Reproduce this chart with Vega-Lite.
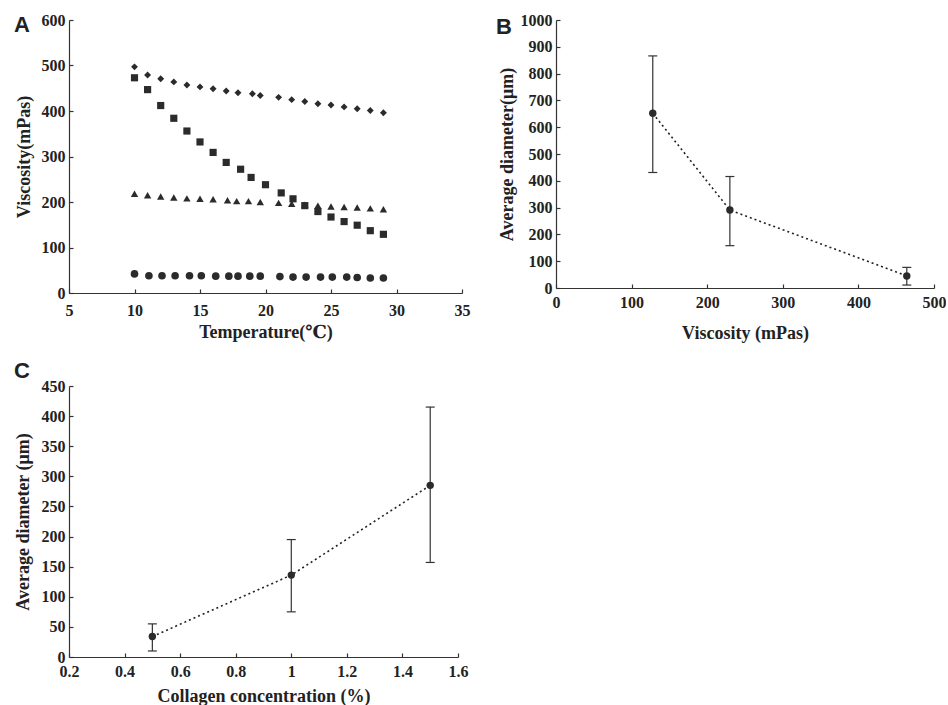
{
  "$schema": "https://vega.github.io/schema/vega-lite/v6.json",
  "padding": {"left": 14, "top": 12, "right": 0, "bottom": 0},
  "background": "white",
  "config": {
    "view": {"stroke": null},
    "axis": {
      "grid": false,
      "labelFont": "Liberation Serif",
      "labelFontWeight": "bold",
      "labelFontSize": 16,
      "labelColor": "#222222",
      "titleFont": "Liberation Serif, DejaVu Serif",
      "titleFontWeight": "bold",
      "titleFontSize": 18,
      "titleColor": "#222222",
      "domainColor": "#333333",
      "domainWidth": 1.2,
      "tickColor": "#333333",
      "tickWidth": 1.2,
      "tickSize": -4,
      "labelFlush": false,
      "labelOverlap": false
    },
    "axisX": {"labelPadding": 10},
    "axisY": {"labelPadding": 8},
    "title": {
      "font": "Liberation Sans",
      "fontSize": 22,
      "fontWeight": "bold",
      "color": "#222222",
      "anchor": "start",
      "frame": "group",
      "offset": 0
    }
  },
  "datasets": {
    "viscosity": [
      {"series": "d", "temperature": 10, "viscosity": 497},
      {"series": "d", "temperature": 11, "viscosity": 479},
      {"series": "d", "temperature": 12, "viscosity": 471},
      {"series": "d", "temperature": 13, "viscosity": 464},
      {"series": "d", "temperature": 14, "viscosity": 457},
      {"series": "d", "temperature": 15, "viscosity": 453},
      {"series": "d", "temperature": 16, "viscosity": 449},
      {"series": "d", "temperature": 17, "viscosity": 444},
      {"series": "d", "temperature": 17.9, "viscosity": 440},
      {"series": "d", "temperature": 19, "viscosity": 438},
      {"series": "d", "temperature": 19.6, "viscosity": 434},
      {"series": "d", "temperature": 21, "viscosity": 430},
      {"series": "d", "temperature": 22, "viscosity": 425},
      {"series": "d", "temperature": 23, "viscosity": 421},
      {"series": "d", "temperature": 24, "viscosity": 416},
      {"series": "d", "temperature": 25, "viscosity": 413},
      {"series": "d", "temperature": 26, "viscosity": 409},
      {"series": "d", "temperature": 27, "viscosity": 405},
      {"series": "d", "temperature": 28, "viscosity": 401},
      {"series": "d", "temperature": 29, "viscosity": 396},
      {"series": "s", "temperature": 10, "viscosity": 473},
      {"series": "s", "temperature": 11, "viscosity": 447},
      {"series": "s", "temperature": 12, "viscosity": 412},
      {"series": "s", "temperature": 13, "viscosity": 384},
      {"series": "s", "temperature": 14, "viscosity": 356},
      {"series": "s", "temperature": 15, "viscosity": 332},
      {"series": "s", "temperature": 16, "viscosity": 309},
      {"series": "s", "temperature": 17, "viscosity": 287},
      {"series": "s", "temperature": 18.1, "viscosity": 272},
      {"series": "s", "temperature": 18.9, "viscosity": 254},
      {"series": "s", "temperature": 20, "viscosity": 238},
      {"series": "s", "temperature": 21.2, "viscosity": 220},
      {"series": "s", "temperature": 22.1, "viscosity": 207},
      {"series": "s", "temperature": 23, "viscosity": 192},
      {"series": "s", "temperature": 24, "viscosity": 179},
      {"series": "s", "temperature": 25, "viscosity": 167},
      {"series": "s", "temperature": 26, "viscosity": 157},
      {"series": "s", "temperature": 27, "viscosity": 149},
      {"series": "s", "temperature": 28, "viscosity": 137},
      {"series": "s", "temperature": 29, "viscosity": 129},
      {"series": "t", "temperature": 10, "viscosity": 218},
      {"series": "t", "temperature": 11, "viscosity": 215},
      {"series": "t", "temperature": 12, "viscosity": 212},
      {"series": "t", "temperature": 13, "viscosity": 210},
      {"series": "t", "temperature": 14, "viscosity": 208},
      {"series": "t", "temperature": 15, "viscosity": 207},
      {"series": "t", "temperature": 16, "viscosity": 206},
      {"series": "t", "temperature": 17.1, "viscosity": 204},
      {"series": "t", "temperature": 17.8, "viscosity": 202},
      {"series": "t", "temperature": 18.7, "viscosity": 202},
      {"series": "t", "temperature": 19.6, "viscosity": 200},
      {"series": "t", "temperature": 21, "viscosity": 198},
      {"series": "t", "temperature": 22, "viscosity": 196},
      {"series": "t", "temperature": 23, "viscosity": 194},
      {"series": "t", "temperature": 24, "viscosity": 192},
      {"series": "t", "temperature": 25, "viscosity": 190},
      {"series": "t", "temperature": 26, "viscosity": 189},
      {"series": "t", "temperature": 27, "viscosity": 188},
      {"series": "t", "temperature": 28, "viscosity": 186},
      {"series": "t", "temperature": 29, "viscosity": 184},
      {"series": "c", "temperature": 10, "viscosity": 42},
      {"series": "c", "temperature": 11.1, "viscosity": 38},
      {"series": "c", "temperature": 12.1, "viscosity": 38},
      {"series": "c", "temperature": 13.1, "viscosity": 38},
      {"series": "c", "temperature": 14.2, "viscosity": 38},
      {"series": "c", "temperature": 15.1, "viscosity": 38},
      {"series": "c", "temperature": 16.2, "viscosity": 37},
      {"series": "c", "temperature": 17.2, "viscosity": 37},
      {"series": "c", "temperature": 17.9, "viscosity": 37},
      {"series": "c", "temperature": 18.8, "viscosity": 37},
      {"series": "c", "temperature": 19.6, "viscosity": 37},
      {"series": "c", "temperature": 21.1, "viscosity": 36},
      {"series": "c", "temperature": 22.1, "viscosity": 35},
      {"series": "c", "temperature": 23.1, "viscosity": 35},
      {"series": "c", "temperature": 24.2, "viscosity": 35},
      {"series": "c", "temperature": 25.1, "viscosity": 35},
      {"series": "c", "temperature": 26.2, "viscosity": 35},
      {"series": "c", "temperature": 27, "viscosity": 34},
      {"series": "c", "temperature": 28, "viscosity": 33},
      {"series": "c", "temperature": 29, "viscosity": 33}
    ],
    "diameterByViscosity": [
      {"viscosity": 128, "diameter": 652, "low": 431, "high": 866},
      {"viscosity": 230, "diameter": 291, "low": 158, "high": 416},
      {"viscosity": 464, "diameter": 45, "low": 11, "high": 77}
    ],
    "diameterByCollagen": [
      {"collagen": 0.5, "diameter": 34, "low": 10, "high": 55},
      {"collagen": 1.0, "diameter": 136, "low": 75, "high": 195},
      {"collagen": 1.5, "diameter": 285, "low": 157, "high": 415}
    ]
  },
  "bounds": "flush",
  "columns": 2,
  "spacing": {"row": 93, "column": 94},
  "concat": [
    {
      "title": {"text": "A", "dx": -55, "dy": 29},
      "width": 393,
      "height": 273,
      "data": {"name": "viscosity"},
      "mark": {"type": "point", "filled": true, "opacity": 1, "color": "#2b2b2b"},
      "encoding": {
        "x": {"field": "temperature", "type": "quantitative", "scale": {"domain": [5, 35], "nice": false, "zero": false},
          "axis": {"title": "Temperature(℃)", "values": [5, 10, 15, 20, 25, 30, 35], "labelPadding": 13, "titlePadding": 5}},
        "y": {"field": "viscosity", "type": "quantitative", "scale": {"domain": [0, 600], "nice": false},
          "axis": {"title": "Viscosity(mPas)", "values": [0, 100, 200, 300, 400, 500, 600], "titlePadding": 8}},
        "shape": {"field": "series", "type": "nominal", "scale": {"domain": ["d", "s", "t", "c"], "range": ["diamond", "square", "triangle-up", "circle"]}, "legend": null},
        "size": {"field": "series", "type": "nominal", "scale": {"domain": ["d", "s", "t", "c"], "range": [48, 58, 50, 50]}, "legend": null}
      }
    },
    {
      "title": {"text": "B", "dx": -60, "dy": 31},
      "width": 378,
      "height": 268,
      "data": {"name": "diameterByViscosity"},
      "encoding": {
        "x": {"field": "viscosity", "type": "quantitative", "scale": {"domain": [0, 500], "nice": false},
          "axis": {"title": "Viscosity (mPas)", "values": [0, 100, 200, 300, 400, 500], "titlePadding": 14}},
        "y": {"field": "diameter", "type": "quantitative", "scale": {"domain": [0, 1000], "nice": false},
          "axis": {"title": "Average diameter(μm)", "format": "d", "values": [0, 100, 200, 300, 400, 500, 600, 700, 800, 900, 1000], "titlePadding": 4}}
      },
      "layer": [
        {"mark": {"type": "line", "color": "#222222", "strokeWidth": 1.6, "strokeDash": [2, 3]}},
        {"mark": {"type": "rule", "color": "#333333", "strokeWidth": 1.2},
          "encoding": {"y": {"field": "low", "type": "quantitative"}, "y2": {"field": "high"}}},
        {"mark": {"type": "tick", "orient": "horizontal", "size": 9, "thickness": 1.2, "color": "#333333", "opacity": 1},
          "encoding": {"y": {"field": "low", "type": "quantitative"}}},
        {"mark": {"type": "tick", "orient": "horizontal", "size": 9, "thickness": 1.2, "color": "#333333", "opacity": 1},
          "encoding": {"y": {"field": "high", "type": "quantitative"}}},
        {"mark": {"type": "circle", "size": 55, "color": "#2b2b2b", "opacity": 1}}
      ]
    },
    {
      "title": {"text": "C", "dx": -55, "dy": 9},
      "width": 389,
      "height": 271,
      "data": {"name": "diameterByCollagen"},
      "encoding": {
        "x": {"field": "collagen", "type": "quantitative", "scale": {"domain": [0.2, 1.6], "nice": false, "zero": false},
          "axis": {"title": "Collagen concentration (%)", "values": [0.2, 0.4, 0.6, 0.8, 1, 1.2, 1.4, 1.6], "format": "~g", "titlePadding": 8}},
        "y": {"field": "diameter", "type": "quantitative", "scale": {"domain": [0, 450], "nice": false},
          "axis": {"title": "Average diameter (μm)", "values": [0, 50, 100, 150, 200, 250, 300, 350, 400, 450], "titlePadding": 9}}
      },
      "layer": [
        {"mark": {"type": "line", "color": "#222222", "strokeWidth": 1.6, "strokeDash": [2, 3]}},
        {"mark": {"type": "rule", "color": "#333333", "strokeWidth": 1.2},
          "encoding": {"y": {"field": "low", "type": "quantitative"}, "y2": {"field": "high"}}},
        {"mark": {"type": "tick", "orient": "horizontal", "size": 9, "thickness": 1.2, "color": "#333333", "opacity": 1},
          "encoding": {"y": {"field": "low", "type": "quantitative"}}},
        {"mark": {"type": "tick", "orient": "horizontal", "size": 9, "thickness": 1.2, "color": "#333333", "opacity": 1},
          "encoding": {"y": {"field": "high", "type": "quantitative"}}},
        {"mark": {"type": "circle", "size": 55, "color": "#2b2b2b", "opacity": 1}}
      ]
    }
  ]
}
